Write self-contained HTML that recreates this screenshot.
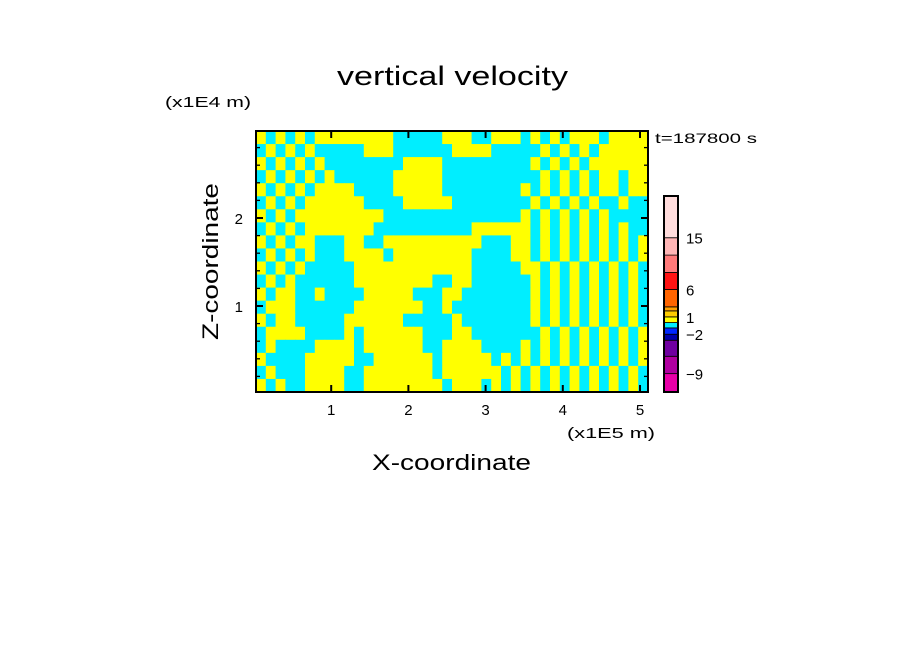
<!DOCTYPE html>
<html><head><meta charset="utf-8"><style>
html,body{margin:0;padding:0;background:#fff;}
svg text{font-family:"Liberation Sans","DejaVu Sans",sans-serif;fill:#000;}
</style></head><body>
<svg id="chart" width="904" height="654" viewBox="0 0 904 654" xmlns="http://www.w3.org/2000/svg">
<rect width="904" height="654" fill="#fff"/>
<text x="337" y="85" font-size="27" textLength="231" lengthAdjust="spacingAndGlyphs">vertical velocity</text>
<text x="165" y="107" font-size="15" textLength="86" lengthAdjust="spacingAndGlyphs">(x1E4 m)</text>
<text x="567" y="438" font-size="15" textLength="88" lengthAdjust="spacingAndGlyphs">(x1E5 m)</text>
<text x="372" y="470" font-size="22" textLength="159" lengthAdjust="spacingAndGlyphs">X-coordinate</text>
<text x="0" y="0" font-size="22" textLength="157" lengthAdjust="spacingAndGlyphs" transform="translate(218,340) rotate(-90)">Z-coordinate</text>
<text x="655" y="143" font-size="14" textLength="102" lengthAdjust="spacingAndGlyphs">t=187800 s</text>
<g id="field"></g>
<g id="axes"></g>
<g id="cbar"></g>
</svg>
<script>
const fieldRows = [
"YCYCYCYYYYYYYYCCCCCYYYCCYYYCYCYCYYYCYYYY",
"CYCYCYCCCCCYYYCCCCCCYYYYCCCCCYCYCYCYYYYY",
"YCYCYCYCCCCCCCCYYYYCCCCCCCCCYCYCYCYYYYYY",
"CYCYCYCYCCCCCCYYYYYCCCCCCCCCCYCYCYCYYCYY",
"YCYCYCYYYYCCCCYYYYYCCCCCCCCYCYCYCYCYYCYY",
"CYCYCYYYYYYCCCCYYYYYCCCCCCCCYCYCYCYCCYCC",
"YCYCYYYYYYYYYCCCCCCCCCCCCCCYCYCYCYCYCCCC",
"CYCYCYYYYYYYCCCCCCCCCCYYYYYYCYCYCYCYCYCC",
"YCYCYYCCCYYCCYYYYYYYYYYCCCYYCYCYCYCYCYCY",
"CYCYCYCCCYYYYCYYYYYYYYCCCCYYCYCYCYCYCYCY",
"YCYCYCCCCCYYYYYYYYYYYYCCCCCYYCYCYCYCYCYC",
"CYCYCCCCCCYYYYYYYYCCYYCCCCCCYCYCYCYCYCYC",
"YCYYCCYCCCCYYYYYCCCYYCCCCCCCYCYCYCYCYCYC",
"CYYYCCCCCCYYYYYYYCCYCCCCCCCCYCYCYCYCYCYC",
"YCYYCCCCCYYYYYYCCCCCYCCCCCCCYCYCYCYCYCYC",
"CYYYYCCCCYCYYYYYYCCCYYCCCCCCCYCYCYCYCYCY",
"CYCCCCYYYYCYYYYYYCCYYYYCCCCYCYCYCYCYCYCY",
"YCCCCYYYYYCCYYYYYYCYYYYYCYCYCYCYCYCYCYCY",
"CYCCCYYYYCCYYYYYYYCYYYYYYCYCYCYCYCYCYCYC",
"YCYCCYYYYCCYYYYYYYYCYYYCYCYCYCYCYCYCYCYC"
];
const xTicks = [1,2,3,4,5];
const yTicks = [1,2];
const cbarColors = ["#e800a8","#b000a0","#7000a0","#0000aa","#0028ff","#00eeff","#ffff00","#ffcc00","#ffa000","#ff6400","#ff1414","#ff7a7a","#ffb6b6","#ffdcdc"];
const cbarWeights = [55,52,48,18,19,16,17,18,12,52,51,52,52,125];
const cbarLabels = ["-9","-2","1","6","15"];
const cbarLabelBoundary = [1,4,7,10,13];

const NS="http://www.w3.org/2000/svg";
const L=256,T=131,R=648,B=392;
const xs=v=>254+v*77.2, ys=v=>394-v*88;
function mk(tag,attrs,parent){const e=document.createElementNS(NS,tag);for(const k in attrs)e.setAttribute(k,attrs[k]);parent.appendChild(e);return e;}
const field=document.getElementById('field');
const nr=fieldRows.length,nc=fieldRows[0].length;
const cw=(R-L)/nc,ch=(B-T)/nr;
fieldRows.forEach((row,r)=>{
  for(let c=0;c<nc;c++){
    const ch_=row[c]||row[row.length-1];
    const e=mk('rect',{x:L+c*cw,y:T+r*ch,width:cw+0.6,height:ch+0.6,fill:ch_==='Y'?'#ffff00':'#00eeff'},field);
    
    
  }
});
const axes=document.getElementById('axes');
const fr=mk('rect',{x:L,y:T,width:R-L,height:B-T,fill:'none',stroke:'#000','stroke-width':2},axes);


xTicks.forEach(v=>{
  const x=xs(v);
  mk('line',{x1:x,y1:B,x2:x,y2:B-7,stroke:'#000','stroke-width':2},axes);
  mk('line',{x1:x,y1:T,x2:x,y2:T+7,stroke:'#000','stroke-width':2},axes);
  const t=mk('text',{x:x,y:B+23,'font-size':15,'text-anchor':'middle'},axes);t.textContent=v;
  
  
});
for(let i=1;i<15;i++){
  const v=i*0.2,y=ys(v); if(y<T)break;
  const major=Math.abs(v-Math.round(v))<1e-6;
  const len=major?7:4;
  mk('line',{x1:L,y1:y,x2:L+len,y2:y,stroke:'#000','stroke-width':major?2:1.3},axes);
  mk('line',{x1:R,y1:y,x2:R-len,y2:y,stroke:'#000','stroke-width':major?2:1.3},axes);
}
yTicks.forEach(v=>{
  const t=mk('text',{x:L-13,y:ys(v)+6,'font-size':15,'text-anchor':'end'},axes);t.textContent=v;
  
  
});
const cb=document.getElementById('cbar');
const cx=664,cwid=14,ctop=196,cbot=392;
const tot=cbarWeights.reduce((a,b)=>a+b,0);
let acc=0;const bounds=[0];
cbarWeights.forEach(w=>{acc+=w;bounds.push(acc);});
const by=i=>cbot-bounds[i]/tot*(cbot-ctop);
cbarColors.forEach((col,i)=>{
  const y1=by(i+1),y0=by(i);
  const e=mk('rect',{x:cx,y:y1,width:cwid,height:y0-y1,fill:col,stroke:'#000','stroke-width':0.8},cb);
  
  
});
mk('rect',{x:cx,y:ctop,width:cwid,height:cbot-ctop,fill:'none',stroke:'#000','stroke-width':2},cb);
cbarLabels.forEach((lab,i)=>{
  const t=mk('text',{x:686,y:by(cbarLabelBoundary[i])+6,'font-size':15},cb);
  t.textContent=lab.replace('-','\u2212');
  
  
});
</script>
</body></html>
